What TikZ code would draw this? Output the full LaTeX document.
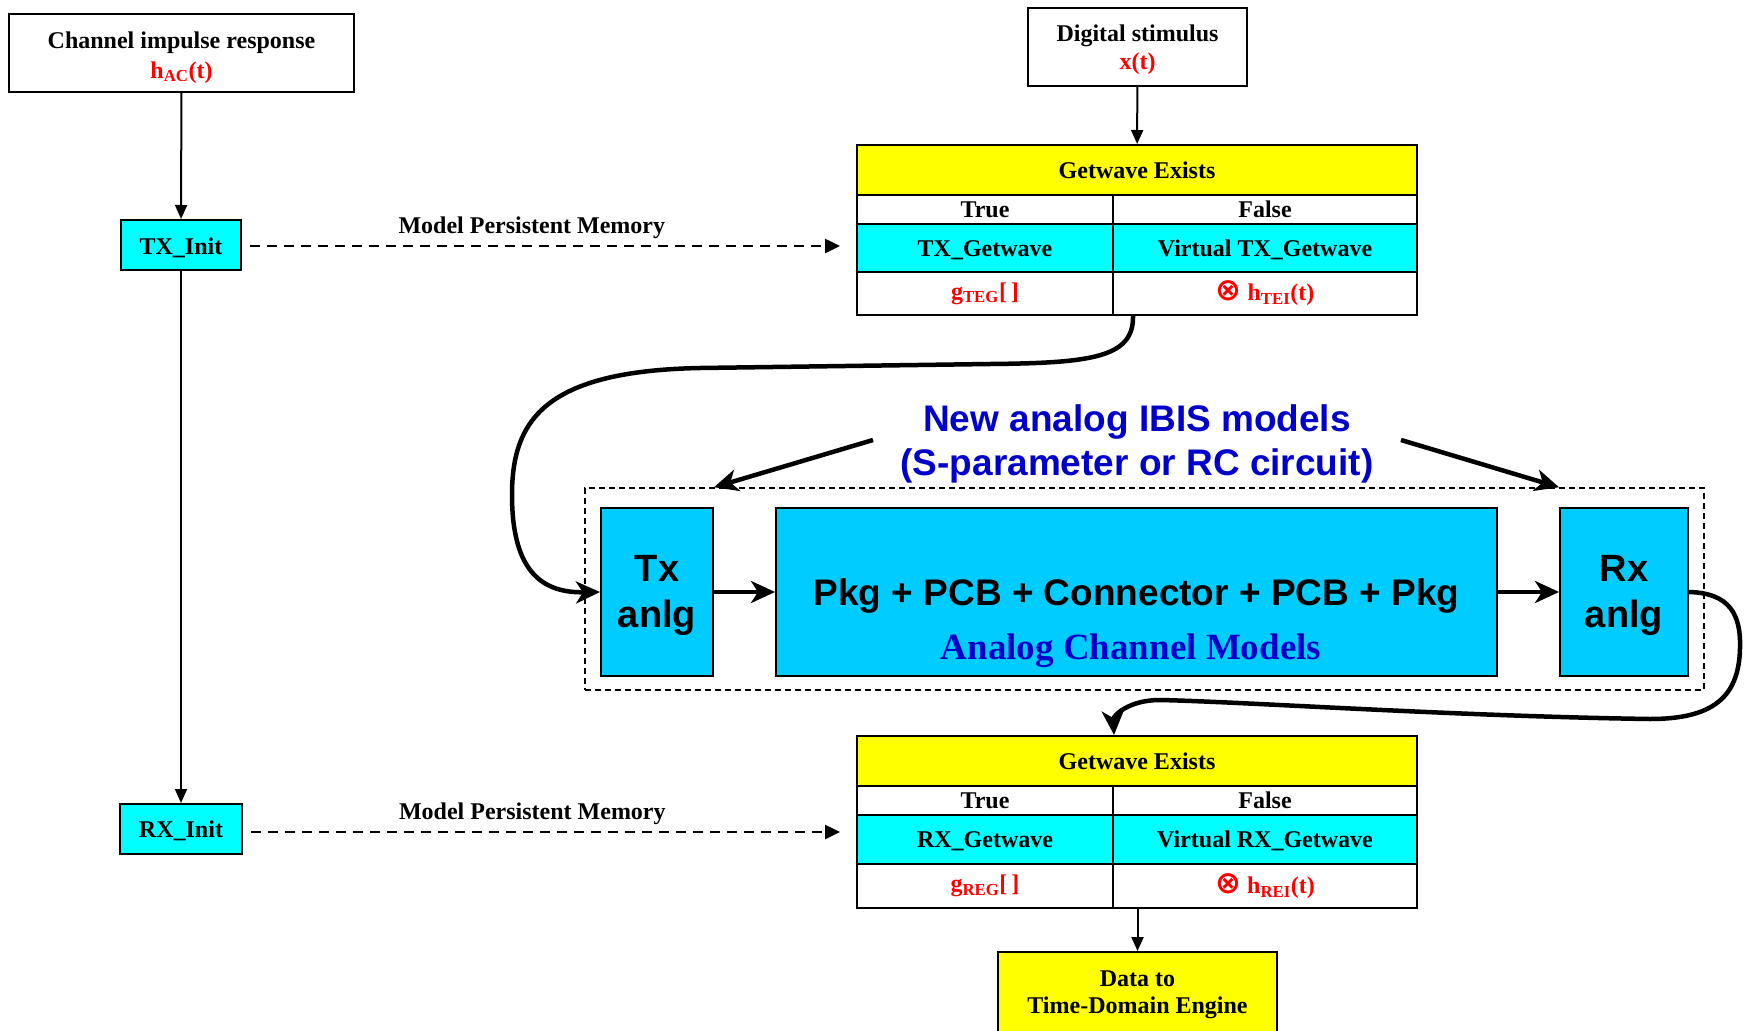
\documentclass[tikz,border=0pt]{standalone}
\usepackage{fontspec}
\setmainfont{Liberation Serif}
\newfontfamily\arialf{Liberation Sans}
\newfontfamily\djv{DejaVu Sans}
\usetikzlibrary{arrows.meta}
\definecolor{cyanA}{RGB}{0,255,255}
\definecolor{cyanB}{RGB}{0,204,255}
\definecolor{yel}{RGB}{255,255,0}
\definecolor{redT}{RGB}{255,0,0}
\definecolor{blueT}{RGB}{0,0,204}
\newcommand\otim{{\djv\bfseries\fontsize{31}{31}\selectfont ⊗}}
\newcommand\lift[1]{\rule{0pt}{#1pt}}
\tikzset{
  box/.style={draw=black, line width=2pt, inner sep=0pt, align=center,
    font=\fontsize{24}{30}\selectfont\bfseries},
  anlg/.style={draw=black, line width=2pt, fill=cyanB, inner sep=0pt, align=center,
    font=\arialf\bfseries\fontsize{38}{46}\selectfont},
  thinarrow/.style={line width=2pt, -{Triangle[length=14pt,width=12pt]}},
  memarrow/.style={line width=2.5pt, dash pattern=on 10pt off 7pt,
    -{Triangle[length=15pt,width=14pt]}, shorten >=16pt, shorten <=8pt},
  bigarrow/.style={line width=4.5pt, -{Stealth[length=24pt,width=22pt,inset=7pt]}},
  memlabel/.style={font=\fontsize{24}{30}\selectfont\bfseries, inner sep=0pt},
}
\begin{document}
\begin{tikzpicture}[x=1pt,y=-1pt]
\useasboundingbox (0,0) rectangle (1744,1030);

% left column
\node[box, minimum width=345, minimum height=78] (cir) at (181.5,53)
  {\lift{25.5}Channel impulse response\\ \textcolor{redT}{h\textsubscript{AC}(t)}};
\node[box, fill=cyanA, minimum width=120, minimum height=50] (txi) at (181,245) {\lift{22.5}TX\_Init};
\node[box, fill=cyanA, minimum width=122, minimum height=50] (rxi) at (181,829) {\lift{20.5}RX\_Init};

% digital stimulus
\node[box, minimum width=219, minimum height=78] (ds) at (1137.5,47)
  {\lift{23}Digital stimulus\\[-2pt] \textcolor{redT}{x(t)}};

% top table
\node[box, fill=yel, minimum width=560, minimum height=50] (gw1) at (1137,170) {Getwave Exists};
\node[box, minimum width=256, minimum height=29] (t1) at (985,209.5) {True};
\node[box, minimum width=304, minimum height=29] (f1) at (1265,209.5) {False};
\node[box, fill=cyanA, minimum width=256, minimum height=48] (g1) at (985,248) {\lift{20}TX\_Getwave};
\node[box, fill=cyanA, minimum width=304, minimum height=48] (v1) at (1265,248) {\lift{20}Virtual TX\_Getwave};
\node[box, text=redT, minimum width=256, minimum height=43] (a1) at (985,293.5) {g\textsubscript{TEG}[\,]};
\node[box, text=redT, minimum width=304, minimum height=43] (b1) at (1265,293.5) {\otim\ h\textsubscript{TEI}(t)};

% bottom table
\node[box, fill=yel, minimum width=560, minimum height=50] (gw2) at (1137,761) {Getwave Exists};
\node[box, minimum width=256, minimum height=29] (t2) at (985,800.5) {True};
\node[box, minimum width=304, minimum height=29] (f2) at (1265,800.5) {False};
\node[box, fill=cyanA, minimum width=256, minimum height=49] (g2) at (985,839.5) {\lift{20}RX\_Getwave};
\node[box, fill=cyanA, minimum width=304, minimum height=49] (v2) at (1265,839.5) {\lift{20}Virtual RX\_Getwave};
\node[box, text=redT, minimum width=256, minimum height=44] (a2) at (985,886) {g\textsubscript{REG}[\,]};
\node[box, text=redT, minimum width=304, minimum height=44] (b2) at (1265,886) {\otim\ h\textsubscript{REI}(t)};

% data box
\node[box, fill=yel, minimum width=279, minimum height=80] (data) at (1137.5,992)
  {\lift{22}Data to\\[-3pt]Time-Domain Engine};

% analog models
\node[draw, line width=1.5pt, dash pattern=on 6pt off 4pt, minimum width=1119,
  minimum height=202, inner sep=0pt] (dbox) at (1144.5,589) {};
\node[anlg, minimum width=112, minimum height=168] (txa) at (657,592) {\lift{34}Tx\\anlg};
\node[anlg, minimum width=721, minimum height=168] (big) at (1136.5,592) {};
\node[anlg, minimum width=128, minimum height=168] (rxa) at (1624,592) {\lift{34}Rx\\anlg};
\node[font=\arialf\bfseries\fontsize{37}{44}\selectfont, inner sep=0pt] (pkg) at (1136.5,596.5)
  {Pkg + PCB + Connector + PCB + Pkg};
\node[font=\bfseries\fontsize{37}{44}\selectfont, text=blueT, inner sep=0pt] (acm) at (1131,650.5)
  {Analog Channel Models};

\node[text=blueT, font=\arialf\bfseries\fontsize{37}{44}\selectfont, align=center, inner sep=0pt]
  (ibis) at (1137,443.5) {New analog IBIS models\\(S-parameter or RC circuit)};
\coordinate (ibL) at (873,440);
\coordinate (ibR) at (1401,440);

% connectors
\draw[thinarrow] (cir) -- (txi);
\draw[thinarrow] (txi) -- (rxi);
\draw[thinarrow] (ds) -- (gw1);
\draw[thinarrow] (data.north |- b2.south) -- (data.north);

\draw[memarrow] ([yshift=-1pt]txi.east) -- ([yshift=-1pt]txi -| g1.west)
  node[memlabel, pos=.472, yshift=18.5pt] (mpm1) {Model Persistent Memory};
\draw[memarrow] ([yshift=-3pt]rxi.east) -- ([yshift=-3pt]rxi -| g2.west)
  node[memlabel, pos=.472, yshift=18.5pt] (mpm2) {Model Persistent Memory};

\draw[bigarrow] ([xshift=21pt]b1.south west) .. controls (1134,358) and (1090,363) .. (990,364)
  -- (700,368) .. controls (545,371) and (512,420) .. (512,495)
  .. controls (512,575) and (545,593) .. (txa.west);
\draw[bigarrow] (txa.east) -- (big.west);
\draw[bigarrow] (big.east) -- (rxa.west);
\draw[bigarrow] (rxa.east) .. controls (1730,593) and (1741,615) .. (1740,648)
  .. controls (1739,698) and (1712,719) .. (1650,719)
  .. controls (1450,716) and (1250,702) .. (1160,700)
  .. controls (1128,700) and (1113,716) .. (gw2.north -| t2.east);

\draw[bigarrow] (ibL) -- (txa.north east |- dbox.north);
\draw[bigarrow] (ibR) -- (rxa.north west |- dbox.north);
\end{tikzpicture}
\end{document}
